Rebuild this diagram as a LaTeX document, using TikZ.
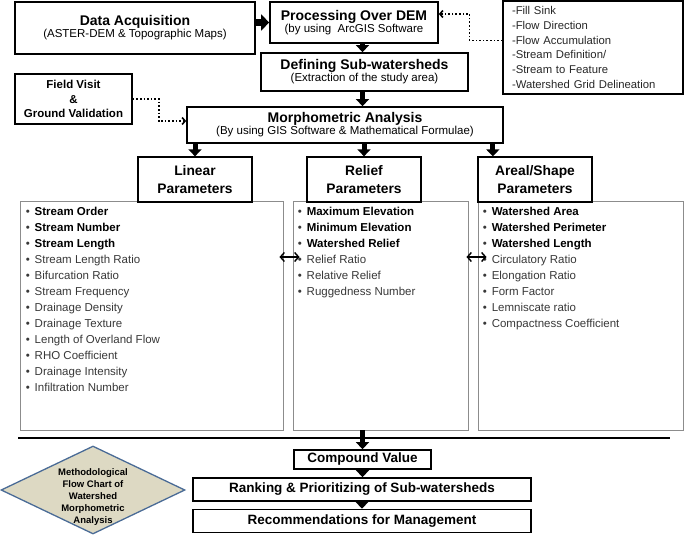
\documentclass[tikz,border=0pt]{standalone}
\usepackage{fontspec}
\setmainfont{Liberation Sans}
\usetikzlibrary{arrows.meta, positioning, shapes.geometric}

\definecolor{diafill}{HTML}{DDD9C3}
\definecolor{diaborder}{HTML}{4A6B96}
\definecolor{itemgray}{HTML}{383838}
\definecolor{boxgray}{HTML}{8C8C8C}

\tikzset{
  mainbox/.style={draw, line width=1.7pt, fill=white, align=center, inner sep=1pt},
  headbox/.style={draw, line width=1.3pt, fill=white, align=center, minimum width=114pt, minimum height=45pt, font=\fontsize{13.8}{18.5}\selectfont\bfseries},
  contbox/.style={draw=boxgray, line width=0.9pt, minimum height=229pt},
  itemlist/.style={anchor=north west, align=left, inner sep=0pt, font=\fontsize{11.5}{16}\selectfont, text=itemgray},
  stepbox/.style={draw, line width=1.2pt, minimum width=180pt, minimum height=93pt, text width=162pt, inner xsep=9pt, align=left, font=\fontsize{11.3}{14.7}\selectfont, text=black!85},
  blockarrow/.style={line width=5pt, -{Triangle[length=7pt,width=13pt]}},
  dotarrow/.style={dotted, line width=1.6pt, -{Straight Barb[length=3pt,width=7pt]}},
  dblarrow/.style={line width=1.4pt, {Straight Barb[length=4pt,width=9pt]}-{Straight Barb[length=4pt,width=9pt]}},
  diamondbox/.style={diamond, draw=diaborder, fill=diafill, line width=1.3pt, minimum width=184pt, minimum height=88pt, inner sep=0pt},
  diatext/.style={align=center, inner sep=0pt, font=\fontsize{9.5}{12}\selectfont\bfseries},
}

\newcommand{\titletext}[1]{{\fontsize{14}{17}\selectfont\bfseries #1}}
\newcommand{\subtext}[1]{{\fontsize{11.5}{14}\selectfont #1}}
\newcommand{\bitem}[1]{\makebox[9pt][l]{\textbullet}\textbf{\color{black}#1}}
\newcommand{\nitem}[1]{\makebox[9pt][l]{\textbullet}#1}

\begin{document}
\begin{tikzpicture}[x=1pt, y=-1pt]
  \useasboundingbox (0,0) rectangle (685,535);

  % top part
  \node[mainbox, minimum width=240pt, minimum height=52pt] (dataacq) at (135,28)
    {\titletext{Data Acquisition}\\\subtext{(ASTER-DEM \& Topographic Maps)}};
  \node[mainbox, minimum width=168pt, minimum height=41pt] (procdem) at (354,22.5)
    {\titletext{Processing Over DEM}\\\subtext{(by using\ \ ArcGIS Software}};
  \node[stepbox] (steps) at (593,47.5)
    {-Fill Sink\\-Flow Direction\\-Flow Accumulation\\-Stream Definition/\\-Stream to Feature\\-Watershed Grid Delineation};
  \node[mainbox, minimum width=207pt, minimum height=38pt] (defsub) at (364.5,72)
    {\titletext{Defining Sub-watersheds}\\\subtext{(Extraction of the study area)}};
  \node[mainbox, minimum width=117pt, minimum height=50pt, font=\fontsize{11.5}{14.5}\selectfont\bfseries] (field) at (73.5,99)
    {Field Visit\\\&\\Ground Validation};
  \node[mainbox, minimum width=316pt, minimum height=36pt] (morph) at (345,125)
    {\titletext{Morphometric Analysis}\\\subtext{(By using GIS Software \& Mathematical Formulae)}};

  % parameter boxes
  \node[contbox, minimum width=263pt] (lincont) at (151.5,315.5) {};
  \node[contbox, minimum width=175pt] (relcont) at (380.5,315.5) {};
  \node[contbox, minimum width=205pt] (areacont) at (580.5,315.5) {};

  \node[headbox] (linhead) at (195,179.5) {Linear\\Parameters};
  \node[headbox] (relhead) at (364,179.5) {Relief\\Parameters};
  \node[headbox] (areahead) at (535,179.5) {Areal/Shape\\Parameters};

  \node[itemlist] (linlist) at ([xshift=6pt,yshift=-6pt]lincont.north west)
    {\bitem{Stream Order}\\\bitem{Stream Number}\\\bitem{Stream Length}\\
     \nitem{Stream Length Ratio}\\\nitem{Bifurcation Ratio}\\\nitem{Stream Frequency}\\
     \nitem{Drainage Density}\\\nitem{Drainage Texture}\\\nitem{Length of Overland Flow}\\
     \nitem{RHO Coefficient}\\\nitem{Drainage Intensity}\\\nitem{Infiltration Number}};
  \node[itemlist] (rellist) at ([xshift=5pt,yshift=-6pt]relcont.north west)
    {\bitem{Maximum Elevation}\\\bitem{Minimum Elevation}\\\bitem{Watershed Relief}\\
     \nitem{Relief Ratio}\\\nitem{Relative Relief}\\\nitem{Ruggedness Number}};
  \node[itemlist] (arealist) at ([xshift=5pt,yshift=-6pt]areacont.north west)
    {\bitem{Watershed Area}\\\bitem{Watershed Perimeter}\\\bitem{Watershed Length}\\
     \nitem{Circulatory Ratio}\\\nitem{Elongation Ratio}\\\nitem{Form Factor}\\
     \nitem{Lemniscate ratio}\\\nitem{Compactness Coefficient}};

  % bottom part
  \coordinate (sepleft) at (18,438);
  \coordinate (sepright) at (670,438);
  \draw[line width=1.8pt] (sepleft) -- (sepright);

  \node[mainbox, minimum width=137pt, minimum height=19pt, font=\fontsize{13.5}{16}\selectfont\bfseries] (compound) at (362.5,459.5) {Compound Value};
  \node[mainbox, minimum width=338pt, minimum height=23pt, font=\fontsize{13.5}{16}\selectfont\bfseries] (ranking) at (362,489.5) {Ranking \& Prioritizing of Sub-watersheds};
  \node[mainbox, minimum width=338pt, minimum height=23pt, font=\fontsize{13.5}{16}\selectfont\bfseries] (recomm) at (362,521) {Recommendations for Management};

  \node[diamondbox] (flowdia) at (93,490) {};
  \node[diatext] (flowtext) at ([yshift=-7pt]flowdia.center) {Methodological\\Flow Chart of\\Watershed\\Morphometric\\Analysis};

  % connectors
  \draw[line width=7pt, -{Triangle[length=8pt,width=16pt]}] (dataacq.east |- procdem.west) -- (procdem.west);
  \draw[blockarrow] (procdem.south -| compound.north) -- (defsub.north -| compound.north);
  \draw[blockarrow] (defsub.south -| compound.north) -- (morph.north -| compound.north);
  \draw[blockarrow] (linhead.north |- morph.south) -- (linhead.north);
  \draw[blockarrow] (relhead.north |- morph.south) -- (relhead.north);
  \coordinate (areatop) at ([xshift=-11pt]morph.south east);
  \draw[blockarrow] (areatop) -- (areatop |- areahead.north);

  \draw[dotarrow] ([yshift=7pt]steps.west) -- ++(-33,0) |- ([yshift=8.5pt]procdem.east);
  \draw[dotarrow] (field.east) -- ++(26,0) |- ([yshift=4pt]morph.west);

  \draw[dblarrow] ([xshift=-4pt,yshift=58.5pt]lincont.east) -- ([xshift=7pt,yshift=58.5pt]relcont.west);
  \draw[dblarrow] ([xshift=-2pt,yshift=58.5pt]relcont.east) -- ([xshift=9pt,yshift=58.5pt]areacont.west);

  \draw[blockarrow] (compound.north |- relcont.south) -- (compound.north);
  \draw[blockarrow] (compound.south) -- (ranking.north -| compound.south);
  \draw[blockarrow] (ranking.south -| recomm.north) -- (recomm.north);
\end{tikzpicture}
\end{document}
